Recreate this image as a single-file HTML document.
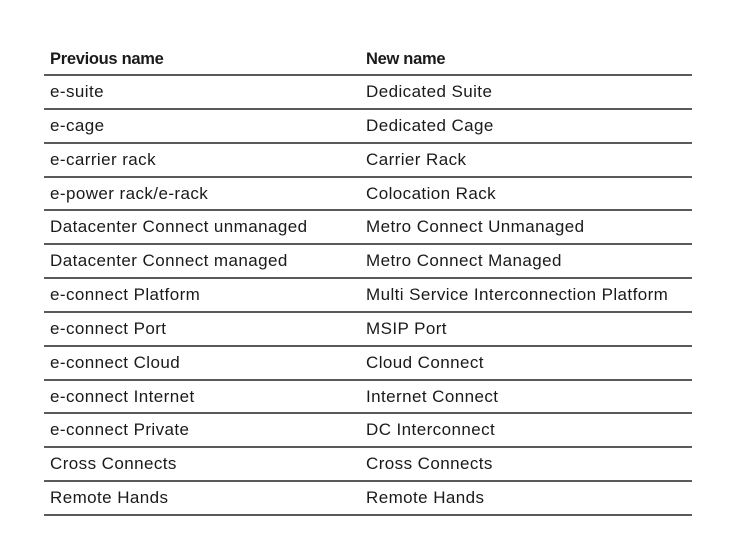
<!DOCTYPE html>
<html><head><style>
body{margin:0;width:740px;height:555px;background:#fff;position:relative;font-family:"Liberation Sans",sans-serif;color:#1a1a1a;overflow:hidden}
.l{position:absolute;left:44px;width:648px;height:2px;background:#5a5a5a}
.t{position:absolute;font-size:17px;line-height:20px;white-space:nowrap;letter-spacing:0.42px}
.h{font-weight:bold;font-size:16.5px;letter-spacing:-0.3px}
</style></head><body>
<div class="t h" style="left:50px;top:49px">Previous name</div>
<div class="t h" style="left:366px;top:49px">New name</div>
<div id="c"></div>
<script>
var rows=[["e-suite","Dedicated Suite"],["e-cage","Dedicated Cage"],["e-carrier rack","Carrier Rack"],["e-power rack/e-rack","Colocation Rack"],["Datacenter Connect unmanaged","Metro Connect Unmanaged"],["Datacenter Connect managed","Metro Connect Managed"],["e-connect Platform","Multi Service Interconnection Platform"],["e-connect Port","MSIP Port"],["e-connect Cloud","Cloud Connect"],["e-connect Internet","Internet Connect"],["e-connect Private","DC Interconnect"],["Cross Connects","Cross Connects"],["Remote Hands","Remote Hands"]];
var h='',step=(514-74)/13;
for(var i=0;i<=13;i++){var y=Math.round(74+i*step);h+='<div class="l" style="top:'+y+'px"></div>';}
for(var i=0;i<13;i++){var y=Math.round(74+i*step+8);h+='<div class="t" style="left:50px;top:'+y+'px">'+rows[i][0]+'</div><div class="t" style="left:366px;top:'+y+'px">'+rows[i][1]+'</div>';}
document.getElementById('c').innerHTML=h;
</script>
</body></html>
